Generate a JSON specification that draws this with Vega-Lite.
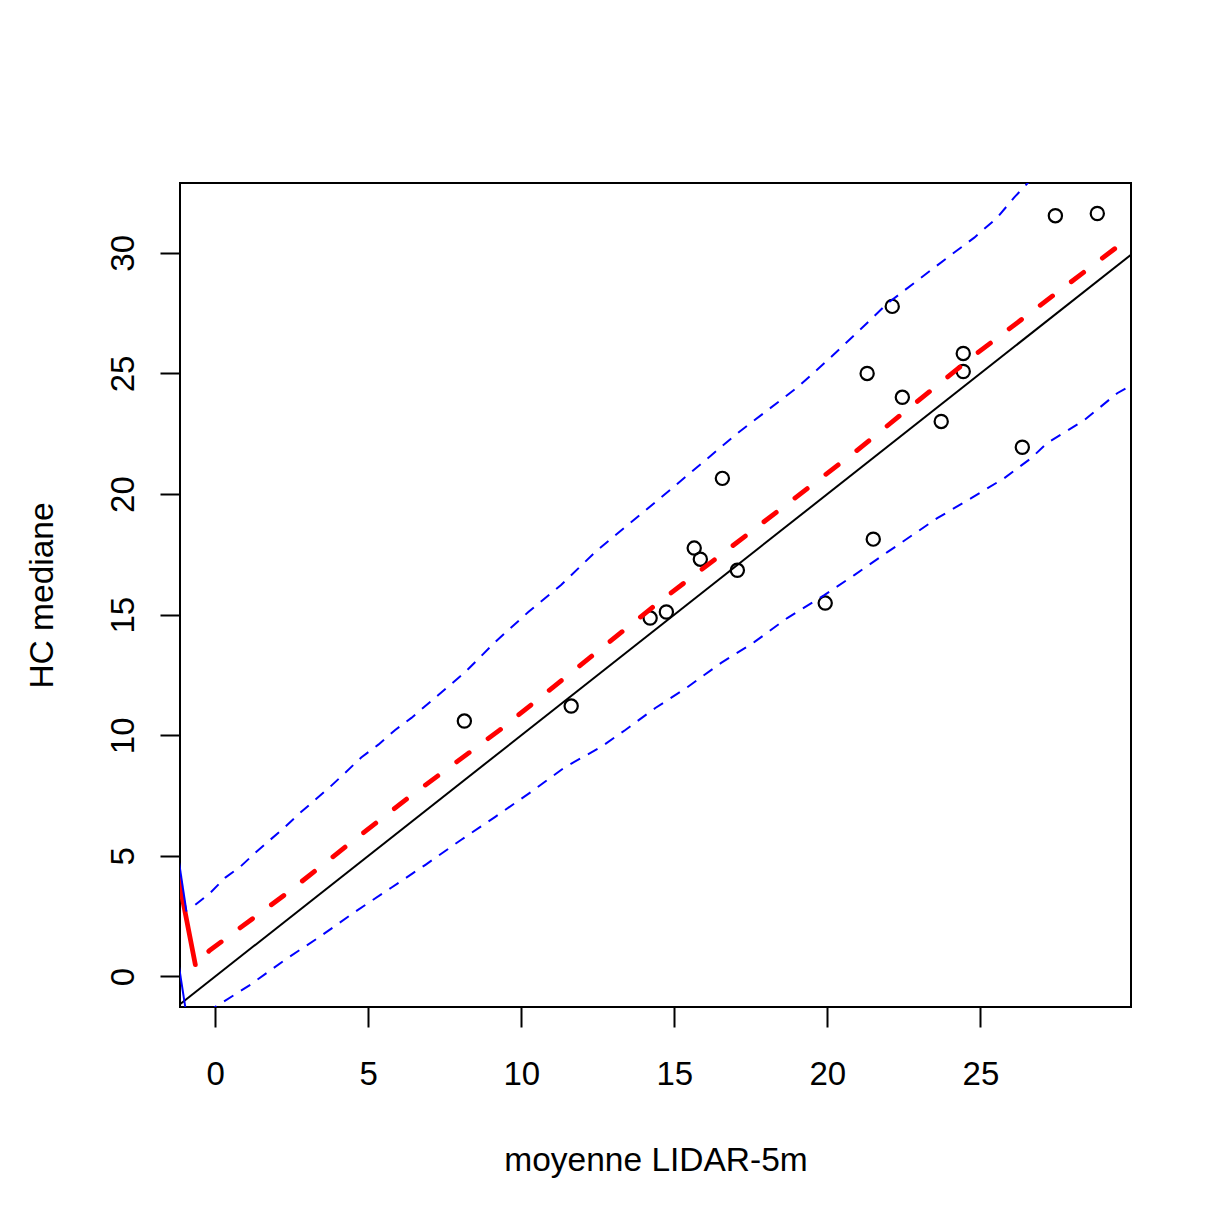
{
  "$schema": "https://vega.github.io/schema/vega-lite/v6.json",
  "width": 951,
  "height": 824,
  "autosize": {"type": "none"},
  "padding": {"left": 180, "top": 183, "right": 78, "bottom": 207},
  "background": "white",
  "config": {
    "view": {"stroke": "black", "strokeWidth": 2},
    "font": "Liberation Sans"
  },
  "datasets": {
    "pts": [
      {"x": 8.14, "y": 10.59}, {"x": 11.63, "y": 11.21}, {"x": 14.21, "y": 14.86},
      {"x": 14.74, "y": 15.11}, {"x": 15.65, "y": 17.76}, {"x": 15.85, "y": 17.30},
      {"x": 16.57, "y": 20.65}, {"x": 17.06, "y": 16.84}, {"x": 19.93, "y": 15.48},
      {"x": 21.30, "y": 25.00}, {"x": 21.50, "y": 18.13}, {"x": 22.12, "y": 27.78},
      {"x": 22.45, "y": 24.01}, {"x": 23.72, "y": 23.01}, {"x": 24.44, "y": 25.83},
      {"x": 24.44, "y": 25.08}, {"x": 26.37, "y": 21.94}, {"x": 27.45, "y": 31.54},
      {"x": 28.82, "y": 31.63}
    ],
    "ref": [{"x": -1.1508, "y": -1.1508}, {"x": 29.9208, "y": 29.9208}],
    "fit": [
      {"x": -0.65, "y": 0.49}, {"x": -0.19, "y": 1.07}, {"x": 2.37, "y": 3.48},
      {"x": 4.37, "y": 5.49}, {"x": 6.36, "y": 7.46}, {"x": 9.30, "y": 10.22},
      {"x": 14.38, "y": 15.40}, {"x": 20.90, "y": 21.74}, {"x": 24.80, "y": 25.75},
      {"x": 29.41, "y": 30.19}
    ],
    "fitSteep": [{"x": -1.25, "y": 4.40}, {"x": -0.65, "y": 0.49}],
    "upper": [
      {"x": -0.65, "y": 2.97}, {"x": -0.16, "y": 3.47}, {"x": 0.33, "y": 4.10},
      {"x": 0.82, "y": 4.55}, {"x": 1.31, "y": 5.13}, {"x": 1.80, "y": 5.67},
      {"x": 2.29, "y": 6.21}, {"x": 2.78, "y": 6.79}, {"x": 3.27, "y": 7.33},
      {"x": 3.76, "y": 7.87}, {"x": 4.25, "y": 8.45}, {"x": 4.77, "y": 9.08},
      {"x": 5.33, "y": 9.61}, {"x": 5.88, "y": 10.22}, {"x": 6.41, "y": 10.72},
      {"x": 7.29, "y": 11.67}, {"x": 8.17, "y": 12.62}, {"x": 9.15, "y": 13.87},
      {"x": 10.23, "y": 15.11}, {"x": 11.30, "y": 16.23}, {"x": 12.42, "y": 17.60},
      {"x": 13.27, "y": 18.50}, {"x": 14.38, "y": 19.66}, {"x": 16.21, "y": 21.61},
      {"x": 17.06, "y": 22.52}, {"x": 18.04, "y": 23.47}, {"x": 19.02, "y": 24.42},
      {"x": 20.00, "y": 25.54}, {"x": 21.11, "y": 26.86}, {"x": 21.96, "y": 27.90},
      {"x": 22.94, "y": 28.85}, {"x": 23.92, "y": 29.80}, {"x": 24.80, "y": 30.63},
      {"x": 25.55, "y": 31.46}, {"x": 26.10, "y": 32.29}, {"x": 26.53, "y": 32.87},
      {"x": 27.00, "y": 33.50}
    ],
    "lower": [
      {"x": -0.25, "y": -1.50}, {"x": -0.03, "y": -1.29}, {"x": 1.15, "y": -0.34},
      {"x": 2.29, "y": 0.70}, {"x": 3.43, "y": 1.66}, {"x": 4.58, "y": 2.69},
      {"x": 5.75, "y": 3.68}, {"x": 6.87, "y": 4.63}, {"x": 8.04, "y": 5.67},
      {"x": 9.15, "y": 6.62}, {"x": 10.33, "y": 7.66}, {"x": 11.44, "y": 8.69},
      {"x": 12.61, "y": 9.52}, {"x": 13.40, "y": 10.22}, {"x": 14.38, "y": 11.13},
      {"x": 15.39, "y": 11.96}, {"x": 16.53, "y": 13.00}, {"x": 17.61, "y": 13.86},
      {"x": 18.69, "y": 14.86}, {"x": 19.90, "y": 15.81}, {"x": 20.88, "y": 16.64},
      {"x": 21.96, "y": 17.59}, {"x": 23.59, "y": 19.00}, {"x": 24.70, "y": 19.83},
      {"x": 25.78, "y": 20.66}, {"x": 26.66, "y": 21.49}, {"x": 27.18, "y": 22.11},
      {"x": 28.39, "y": 23.06}, {"x": 29.47, "y": 24.18}, {"x": 29.93, "y": 24.51}
    ],
    "blueSteep": [
      {"g": "a", "x": -1.25, "y": 5.30}, {"g": "a", "x": -0.94, "y": 2.69},
      {"g": "b", "x": -1.25, "y": 0.95}, {"g": "b", "x": -0.95, "y": -1.50}
    ]
  },
  "encoding": {
    "x": {
      "field": "x",
      "type": "quantitative",
      "title": "moyenne LIDAR-5m",
      "scale": {"domain": [-1.1508, 29.9208], "nice": false, "zero": false},
      "axis": {
        "values": [0, 5, 10, 15, 20, 25],
        "domain": false,
        "grid": false,
        "tickSize": 20,
        "tickWidth": 2,
        "tickColor": "black",
        "labelFont": "Liberation Sans",
        "labelFontSize": 33,
        "labelColor": "black",
        "labelPadding": 31,
        "labelFlush": false,
        "labelOverlap": false,
        "titleFont": "Liberation Sans",
        "titleFontSize": 33.5,
        "titleFontWeight": "normal",
        "titleColor": "black",
        "titleX": 475.5,
        "titleY": 163,
        "titleAlign": "center",
        "titleBaseline": "alphabetic"
      }
    },
    "y": {
      "field": "y",
      "type": "quantitative",
      "title": "HC mediane",
      "scale": {"domain": [-1.2652, 32.8952], "nice": false, "zero": false},
      "axis": {
        "values": [0, 5, 10, 15, 20, 25, 30],
        "domain": false,
        "grid": false,
        "tickSize": 20,
        "tickWidth": 2,
        "tickColor": "black",
        "labelFont": "Liberation Sans",
        "labelFontSize": 33,
        "labelColor": "black",
        "labelAngle": -90,
        "labelAlign": "center",
        "labelBaseline": "alphabetic",
        "labelPadding": 27,
        "labelFlush": false,
        "labelOverlap": false,
        "titleFont": "Liberation Sans",
        "titleFontSize": 33.5,
        "titleFontWeight": "normal",
        "titleColor": "black",
        "titleAngle": -90,
        "titleX": -128,
        "titleY": 412,
        "titleAlign": "center",
        "titleBaseline": "alphabetic"
      }
    }
  },
  "layer": [
    {
      "data": {"name": "pts"},
      "mark": {"type": "point", "shape": "circle", "filled": false, "color": "black", "size": 175, "strokeWidth": 2.2, "opacity": 1}
    },
    {
      "data": {"name": "ref"},
      "mark": {"type": "line", "color": "black", "strokeWidth": 2, "clip": true}
    },
    {
      "data": {"name": "fitSteep"},
      "mark": {"type": "line", "color": "#FF0000", "strokeWidth": 4.8, "strokeCap": "round", "clip": true}
    },
    {
      "data": {"name": "fit"},
      "mark": {"type": "line", "color": "#FF0000", "strokeWidth": 4.8, "strokeCap": "round", "strokeDash": [15.5, 23.5], "strokeDashOffset": 20, "clip": true}
    },
    {
      "data": {"name": "upper"},
      "mark": {"type": "line", "color": "#0000FF", "strokeWidth": 2, "strokeDash": [11, 9], "clip": true}
    },
    {
      "data": {"name": "lower"},
      "mark": {"type": "line", "color": "#0000FF", "strokeWidth": 2, "strokeDash": [11, 9], "clip": true}
    },
    {
      "data": {"name": "blueSteep"},
      "mark": {"type": "line", "color": "#0000FF", "strokeWidth": 2, "clip": true},
      "encoding": {"detail": {"field": "g", "type": "nominal"}}
    }
  ]
}
